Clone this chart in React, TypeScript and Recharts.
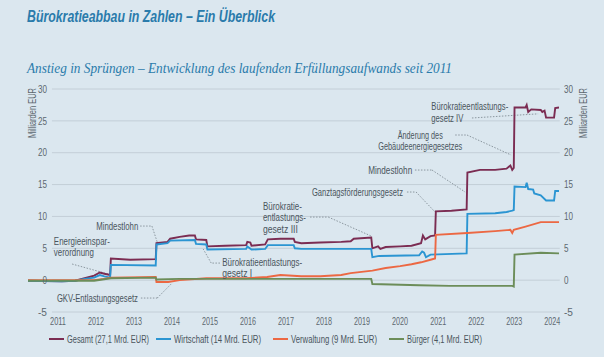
import React from "react";
import { LineChart, Line, XAxis, YAxis, ReferenceLine, ReferenceDot } from "recharts";

type Pt = [number, number];

const years = [2011, 2012, 2013, 2014, 2015, 2016, 2017, 2018, 2019, 2020, 2021, 2022, 2023, 2024];
const yTicks = [-5, 0, 5, 10, 15, 20, 25, 30];

// Mrd. EUR, [Zeitpunkt, Wert]
const gesamt: Pt[] = [
  [2010.21, -0.1], [2011.1, -0.2], [2011.45, -0.1], [2011.7, 0.3], [2011.95, 0.7], [2012.1, 1.2],
  [2012.22, 1.0], [2012.37, 0.8], [2012.39, 3.4], [2012.9, 3.2], [2013.57, 3.3], [2013.59, 5.8],
  [2013.88, 6.0], [2013.95, 6.5], [2014.2, 6.8], [2014.45, 7.0], [2014.6, 7.0], [2014.63, 6.4],
  [2014.9, 6.3], [2014.93, 5.3], [2015.4, 5.4], [2015.95, 5.5], [2015.98, 6.0], [2016.06, 5.9],
  [2016.09, 5.4], [2016.45, 5.6], [2016.52, 6.4], [2016.85, 6.5], [2017.2, 6.5], [2017.23, 6.0],
  [2017.4, 5.8], [2017.9, 5.9], [2018.45, 6.0], [2018.7, 6.1], [2018.78, 6.5], [2019.24, 6.7],
  [2019.27, 5.0], [2019.42, 5.3], [2019.48, 4.9], [2019.62, 5.2], [2020.0, 5.3], [2020.3, 5.4],
  [2020.55, 5.8], [2020.6, 7.0], [2020.66, 6.4], [2020.8, 6.9], [2020.92, 7.0], [2020.94, 10.8],
  [2021.35, 10.9], [2021.75, 11.1], [2021.77, 16.9], [2022.1, 17.3], [2022.5, 17.3], [2022.8, 17.5],
  [2022.9, 18.0], [2022.95, 17.3], [2022.99, 17.6], [2023.01, 27.1], [2023.3, 27.1], [2023.33, 27.5],
  [2023.37, 26.4], [2023.45, 26.8], [2023.7, 26.7], [2023.74, 26.4], [2023.8, 26.6], [2023.84, 25.5],
  [2024.05, 25.5], [2024.08, 27.0], [2024.18, 27.1],
];

const wirtschaft: Pt[] = [
  [2010.21, -0.1], [2011.1, -0.2], [2011.45, -0.1], [2011.7, 0.2], [2011.95, 0.4], [2012.1, 0.8],
  [2012.22, 0.6], [2012.37, 0.4], [2012.39, 2.4], [2013.57, 2.3], [2013.59, 5.6], [2013.88, 5.8],
  [2013.95, 6.2], [2014.6, 6.3], [2014.63, 5.7], [2014.9, 5.6], [2014.93, 4.8], [2015.95, 4.9],
  [2015.98, 5.3], [2016.09, 4.8], [2016.45, 4.9], [2016.52, 5.5], [2017.2, 5.5], [2017.23, 5.0],
  [2017.4, 4.9], [2019.24, 4.9], [2019.27, 3.6], [2019.45, 3.8], [2020.5, 3.9], [2020.58, 4.5],
  [2020.63, 4.3], [2020.68, 3.6], [2020.8, 4.0], [2021.75, 4.2], [2021.77, 10.4], [2022.5, 10.5],
  [2022.8, 10.7], [2022.95, 10.9], [2022.99, 11.0], [2023.01, 14.7], [2023.3, 14.6], [2023.33, 15.3],
  [2023.37, 14.3], [2023.5, 14.2], [2023.53, 13.6], [2023.7, 13.3], [2023.84, 12.5], [2024.05, 12.5],
  [2024.08, 14.0], [2024.18, 14.0],
];

const verwaltung: Pt[] = [
  [2010.21, 0.0], [2011.95, 0.0], [2012.2, 0.2], [2012.39, 0.4], [2013.57, 0.5], [2013.59, -0.3],
  [2013.9, -0.3], [2014.2, 0.0], [2014.9, 0.3], [2015.95, 0.3], [2016.5, 0.5], [2016.85, 0.8],
  [2017.4, 0.6], [2017.9, 0.6], [2018.45, 0.8], [2018.7, 1.1], [2019.27, 1.5], [2019.62, 1.9],
  [2020.0, 2.2], [2020.3, 2.5], [2020.55, 2.8], [2020.8, 3.2], [2020.92, 3.4], [2020.94, 7.1],
  [2021.77, 7.4], [2022.5, 7.7], [2022.9, 7.9], [2022.95, 7.4], [2022.99, 7.9], [2023.3, 8.4],
  [2023.7, 9.1], [2024.18, 9.1],
];

const buerger: Pt[] = [
  [2010.21, -0.1], [2011.95, -0.1], [2012.39, 0.3], [2013.57, 0.4], [2013.59, 0.1], [2014.2, 0.2],
  [2019.24, 0.2], [2019.27, -0.6], [2020.5, -0.8], [2021.3, -0.9], [2022.1, -0.9], [2022.95, -0.9],
  [2022.99, -1.0], [2023.01, 4.0], [2023.7, 4.3], [2024.18, 4.2],
];

const seriesNames = ["Gesamt (27,1 Mrd. EUR)", "Wirtschaft (14 Mrd. EUR)", "Verwaltung (9 Mrd. EUR)", "Bürger (4,1 Mrd. EUR)"];
const seriesData = [gesamt, wirtschaft, verwaltung, buerger];
const colors = ["#7b2c52", "#2b95d2", "#ec6843", "#6c8d59"];
const legendX = [49, 156, 273, 389];
const legendW = [82, 87, 86, 75];

type Note = { lines: string[]; widths: number[]; at: Pt; anchor: "start" | "middle" | "end"; leader: Pt[] };

const notes: Note[] = [
  { lines: ["Energieeinspar-", "verordnung"], widths: [56, 40], at: [2010.89, 6.14], anchor: "start", leader: [[2011.37, 2.53], [2012.32, 0.96]] },
  { lines: ["Mindestlohn"], widths: [42], at: [2013.11, 8.49], anchor: "end", leader: [[2013.16, 8.49], [2013.47, 8.49], [2013.61, 5.98]] },
  { lines: ["Bürokratieentlastungs-", "gesetz I"], widths: [80, 30], at: [2015.32, 2.84], anchor: "start", leader: [[2015.26, 2.68], [2015.03, 2.68], [2014.82, 4.88]] },
  { lines: ["Bürokratie-", "entlastungs-", "gesetz III"], widths: [39, 43, 35], at: [2016.39, 11.63], anchor: "start", leader: [[2017.63, 9.9], [2018.11, 9.9], [2019.24, 6.92]] },
  { lines: ["Ganztagsförderungsgesetz"], widths: [91], at: [2017.68, 13.83], anchor: "start", leader: [[2020.18, 13.83], [2020.42, 13.83], [2020.92, 10.69]] },
  { lines: ["Mindestlohn"], widths: [44], at: [2019.16, 17.28], anchor: "start", leader: [[2020.39, 17.28], [2020.84, 17.28], [2021.71, 13.83]] },
  { lines: ["Änderung des", "Gebäudeenergiegesetzes"], widths: [45, 84], at: [2020.53, 22.78], anchor: "middle", leader: [[2021.45, 22.78], [2021.76, 22.78], [2022.92, 19.64]] },
  { lines: ["Bürokratieentlastungs-", "gesetz IV"], widths: [77, 32], at: [2020.82, 27.3], anchor: "start", leader: [[2021.89, 25.45], [2023.63, 26.1]] },
  { lines: ["GKV-Entlastungsgesetz"], widths: [81], at: [2010.97, -2.81], anchor: "start", leader: [[2013.18, -2.81], [2013.61, -2.81], [2014.0, -0.46]] },
];

const sans = "'Liberation Sans', Arial, sans-serif";
const labelColor = "#5d6870";
const noteColor = "#4a555d";
const gridColor = "#c3ced7";
const titleColor = "#2a7bab";

function XTick(props: any) {
  const { x, y, payload } = props;
  return (
    <text x={x} y={y - 2} dy="0.71em" textAnchor="middle" fontSize={10.5} fontFamily={sans} fill={labelColor} textLength={16} lengthAdjust="spacingAndGlyphs">
      {payload.value}
    </text>
  );
}

function YTick(props: any) {
  const { y, payload } = props;
  const w = String(payload.value).length * 4.5;
  return (
    <g>
      <text x={47} y={y} dy="0.35em" textAnchor="end" fontSize={10.5} fontFamily={sans} fill={labelColor} textLength={w} lengthAdjust="spacingAndGlyphs">
        {payload.value}
      </text>
      <text x={564} y={y} dy="0.35em" textAnchor="start" fontSize={10.5} fontFamily={sans} fill={labelColor} textLength={w} lengthAdjust="spacingAndGlyphs">
        {payload.value}
      </text>
    </g>
  );
}

function NoteText(note: Note) {
  return (props: any) => (
    <g>
      {note.lines.map((l, i) => (
        <text
          key={i}
          x={props.cx}
          y={props.cy + i * 11.5}
          dy="0.35em"
          textAnchor={note.anchor}
          fontSize={11}
          fontFamily={sans}
          fill={noteColor}
          textLength={note.widths[i]}
          lengthAdjust="spacingAndGlyphs"
        >
          {l}
        </text>
      ))}
    </g>
  );
}

export default function App() {
  return (
    <div style={{ position: "fixed", left: 0, top: 0, width: 604, height: 357, background: "#dbe7ef", overflow: "hidden" }}>
      <div style={{ position: "absolute", left: 0, top: 0 }}>
        <LineChart width={604} height={357} margin={{ top: 89, right: 45, bottom: 25, left: 27 }}>
          <XAxis
            type="number"
            dataKey="t"
            domain={[2010.21, 2024.18]}
            ticks={years}
            allowDataOverflow
            axisLine={false}
            tickLine={false}
            height={20}
            tick={<XTick />}
            interval={0}
          />
          <YAxis
            type="number"
            domain={[-5, 30]}
            ticks={yTicks}
            width={1}
            axisLine={false}
            tickLine={false}
            tick={<YTick />}
            interval={0}
          />
          {yTicks.map((v) => (
            <ReferenceLine key={"g" + v} segment={[{ x: 2010.84, y: v }, { x: 2024.2, y: v }]} stroke={gridColor} strokeWidth={1} ifOverflow="visible" />
          ))}
          {notes.map((n, i) =>
            n.leader.slice(1).map((p, j) => (
              <ReferenceLine
                key={"l" + i + "-" + j}
                segment={[{ x: n.leader[j][0], y: n.leader[j][1] }, { x: p[0], y: p[1] }]}
                stroke="#8b979f"
                strokeWidth={1}
                strokeDasharray="1.5 1.5"
                ifOverflow="visible"
              />
            ))
          )}
          {seriesData.map((s, i) => (
            <Line
              key={seriesNames[i]}
              data={s.map(([t, v]) => ({ t, v }))}
              dataKey="v"
              type="linear"
              stroke={colors[i]}
              strokeWidth={1.9}
              dot={false}
              activeDot={false}
              isAnimationActive={false}
            />
          ))}
          {notes.map((n, i) => (
            <ReferenceDot key={"n" + i} x={n.at[0]} y={n.at[1]} r={0} ifOverflow="visible" shape={NoteText(n)} />
          ))}
        </LineChart>
      </div>

      <svg width={604} height={357} style={{ position: "absolute", left: 0, top: 0, pointerEvents: "none" }}>
        <text x={27} y={22} fontSize={16} fontStyle="italic" fontWeight={700} fontFamily={sans} fill={titleColor} textLength={248} lengthAdjust="spacingAndGlyphs">
          Bürokratieabbau in Zahlen – Ein Überblick
        </text>
        <text x={27} y={73} fontSize={14} fontStyle="italic" fontFamily="'Liberation Serif', serif" fill={titleColor} textLength={425} lengthAdjust="spacingAndGlyphs">
          Anstieg in Sprüngen – Entwicklung des laufenden Erfüllungsaufwands seit 2011
        </text>
        <text x={32} y={113} transform="rotate(-90 32 113)" textAnchor="middle" dy="0.35em" fontSize={10} fontFamily={sans} fill={labelColor} textLength={50} lengthAdjust="spacingAndGlyphs">
          Milliarden EUR
        </text>
        <text x={583} y={113} transform="rotate(-90 583 113)" textAnchor="middle" dy="0.35em" fontSize={10} fontFamily={sans} fill={labelColor} textLength={50} lengthAdjust="spacingAndGlyphs">
          Milliarden EUR
        </text>
        {seriesNames.map((name, i) => (
          <g key={name}>
            <line x1={legendX[i]} x2={legendX[i] + 15} y1={339} y2={339} stroke={colors[i]} strokeWidth={2} />
            <text x={legendX[i] + 18} y={339} dy="0.35em" fontSize={11} fontFamily={sans} fill={noteColor} textLength={legendW[i]} lengthAdjust="spacingAndGlyphs">
              {name}
            </text>
          </g>
        ))}
      </svg>
    </div>
  );
}
